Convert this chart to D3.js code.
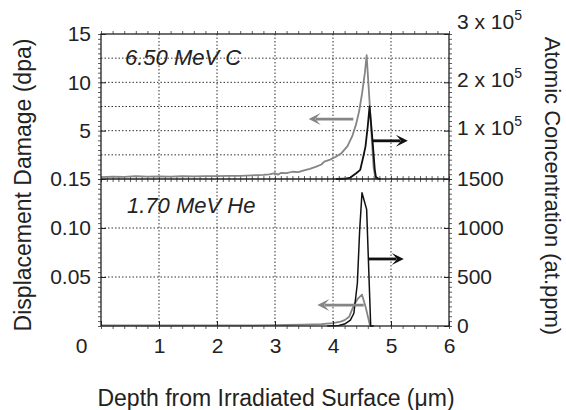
<!DOCTYPE html>
<html><head><meta charset="utf-8">
<script src="https://cdn.jsdelivr.net/npm/d3@7"></script>
<style>
html,body{margin:0;padding:0;background:#fff;}
svg{display:block;font-family:"Liberation Sans",Arial,Helvetica,sans-serif;}
</style></head>
<body><svg id="c" width="566" height="410"></svg>
<script>
// ---------- data ----------
// Top panel: 6.50 MeV C
const cDepthDamage = [0,0.2,0.4,0.6,0.8,1.0,1.2,1.4,1.6,1.8,2.0,2.2,2.4,2.6,2.8,2.9,3.0,3.05,3.1,3.2,3.3,3.4,3.5,3.6,3.7,3.8,3.85,3.95,4.05,4.15,4.25,4.33,4.4,4.45,4.5,4.55,4.58,4.62,4.66,4.7,4.73,4.8];
const cDamage      = [0.2,0.25,0.22,0.3,0.25,0.28,0.25,0.3,0.28,0.3,0.3,0.33,0.32,0.38,0.42,0.48,0.6,0.45,0.62,0.6,0.75,0.72,0.9,1.05,1.25,1.5,1.8,2.0,2.3,2.7,3.4,4.4,5.7,7.0,8.8,11.0,12.8,9.0,5.0,1.2,0.1,0.0];
const cDepthConc   = [4.05,4.2,4.3,4.4,4.47,4.52,4.56,4.6,4.63,4.66,4.69,4.72,4.74,4.78,4.82];
const cConc        = [0,500,3000,12000,19000,45000,67000,110000,150000,110000,67000,20000,4000,1000,0];
// Bottom panel: 1.70 MeV He
const heDepthDamage = [0,0.5,1.0,1.5,2.0,2.5,3.0,3.2,3.5,3.8,4.0,4.13,4.2,4.28,4.36,4.43,4.5,4.56,4.64,4.7];
const heDamage      = [0.0005,0.0006,0.0005,0.0006,0.0006,0.0007,0.0008,0.001,0.0015,0.002,0.003,0.0045,0.006,0.0095,0.0214,0.028,0.032,0.02,0.0,0.0];
const heDepthConc   = [3.9,4.1,4.2,4.3,4.36,4.42,4.46,4.5,4.58,4.65,4.7];
const heConc        = [0,5,20,60,130,436,980,1360,1190,0,0];
// axis ticks
const xTicks = [0,1,2,3,4,5,6];
const topLeftTicks = [5,10,15];
const topRightTicks = [100000,200000,300000];
const botLeftTicks = [0.05,0.10,0.15];
const botRightTicks = [0,500,1000,1500];
const topGrid = [2.5,5,7.5,10,12.5];
const botGrid = [0.05,0.10];
// arrows: [x from, x to, y value]
const arrowTopDamage = [4.35,3.58,6.2];
const arrowTopConc   = [4.68,5.29,79000];
const arrowBotDamage = [4.53,3.73,0.0214];
const arrowBotConc   = [4.61,5.22,684];

// ---------- layout ----------
const L=101,R=449,T=34,M=179,B=326;
const svg=d3.select("#c");
const x=d3.scaleLinear([0,6],[L,R]);
const yTL=d3.scaleLinear([0,15],[M,T]);
const yTR=d3.scaleLinear([0,300000],[M,T]);
const yBL=d3.scaleLinear([0,0.15],[B,M]);
const yBR=d3.scaleLinear([0,1500],[B,M]);
const GRAY="#858585", BLACK="#111", TXT="#222";

// grid
const grid=svg.append("g").attr("stroke","#333").attr("stroke-width",1).attr("stroke-dasharray","1.5,2");
[1,2,3,4,5].forEach(v=>grid.append("line").attr("x1",x(v)).attr("x2",x(v)).attr("y1",T).attr("y2",B));
topGrid.forEach(v=>grid.append("line").attr("x1",L).attr("x2",R).attr("y1",yTL(v)).attr("y2",yTL(v)));
botGrid.forEach(v=>grid.append("line").attr("x1",L).attr("x2",R).attr("y1",yBL(v)).attr("y2",yBL(v)));

// minor ticks
function minor(axisGen, tr, vals){
  const g=svg.append("g").attr("transform",tr).call(axisGen.tickValues(vals).tickFormat("").tickSizeInner(-3).tickSizeOuter(0));
  g.select(".domain").remove();
  g.selectAll("line").attr("stroke","#333").attr("stroke-width",0.8);
}
const r=(a,b,s)=>d3.range(Math.round((b-a)/s)+1).map(i=>+(a+i*s).toFixed(4));
minor(d3.axisRight(yTL),`translate(${L},0)`,r(0,15,0.5));
minor(d3.axisLeft(yTR),`translate(${R},0)`,r(0,300000,10000));
minor(d3.axisRight(yBL),`translate(${L},0)`,r(0,0.15,0.005));
minor(d3.axisLeft(yBR),`translate(${R},0)`,r(0,1500,50));
minor(d3.axisBottom(x),`translate(0,${T})`,r(0,6,0.2));
minor(d3.axisTop(x),`translate(0,${B})`,r(0,6,0.2));
minor(d3.axisTop(x),`translate(0,${M})`,r(0,6,0.1));
minor(d3.axisBottom(x),`translate(0,${M})`,r(0,6,0.1));

// lines
const line=(ys)=>d3.line().x(d=>x(d[0])).y(d=>ys(d[1]));
const zip=(a,b)=>a.map((v,i)=>[v,b[i]]);
function path(data,ys,col,w){
  svg.append("path").datum(data).attr("d",line(ys)).attr("fill","none").attr("stroke",col).attr("stroke-width",w).attr("stroke-linejoin","round");
}
path(zip(heDepthDamage,heDamage),yBL,GRAY,1.8);
path(zip(heDepthConc,heConc),yBR,BLACK,1.5);
path(zip(cDepthDamage,cDamage),yTL,GRAY,1.8);
path(zip(cDepthConc,cConc),yTR,BLACK,1.8);

// arrows
function arrow(a,ys,col){
  const x1=x(a[0]),x2=x(a[1]),y=ys(a[2]);
  const dir=Math.sign(x2-x1), hl=12, hw=6;
  svg.append("line").attr("x1",x1).attr("x2",x2-dir*hl*0.6).attr("y1",y).attr("y2",y).attr("stroke",col).attr("stroke-width",2.8);
  svg.append("path").attr("d",`M${x2},${y}L${x2-dir*hl},${y-hw}L${x2-dir*hl*0.55},${y}L${x2-dir*hl},${y+hw}Z`).attr("fill",col);
}
arrow(arrowTopDamage,yTL,GRAY);
arrow(arrowTopConc,yTR,BLACK);
arrow(arrowBotDamage,yBL,GRAY);
arrow(arrowBotConc,yBR,BLACK);

// frame
svg.append("rect").attr("x",L).attr("y",T).attr("width",R-L).attr("height",B-T).attr("fill","none").attr("stroke","#222").attr("stroke-width",1.3);
svg.append("line").attr("x1",L).attr("x2",R).attr("y1",M).attr("y2",M).attr("stroke","#222").attr("stroke-width",1.5);

// major axes with labels
function major(axisGen, tr, vals, fmt, pad){
  const g=svg.append("g").attr("transform",tr).call(axisGen.tickValues(vals).tickFormat(fmt).tickSizeInner(-5).tickSizeOuter(0).tickPadding(pad));
  g.select(".domain").remove();
  g.selectAll("line").attr("stroke","#222");
  g.selectAll("text").attr("fill",TXT).style("font-size","21px").style("font-family","'Liberation Sans',Arial,sans-serif");
  return g;
}
major(d3.axisLeft(yTL),`translate(${L},0)`,topLeftTicks,d3.format("d"),10);
major(d3.axisLeft(yBL),`translate(${L},0)`,botLeftTicks,d3.format(".2f"),10);
major(d3.axisRight(yBR),`translate(${R},0)`,botRightTicks,d3.format("d"),8);
const gtr=major(d3.axisRight(yTR),`translate(${R},0)`,topRightTicks,()=>"",8);
gtr.selectAll("text").each(function(d){
  const t=d3.select(this);
  t.attr("dy", d===300000 ? "-0.28em" : "0.2em");
  t.append("tspan").text(`${d/100000} x 10`);
  t.append("tspan").text("5").attr("dy","-9").style("font-size","14px");
});
const gx=major(d3.axisBottom(x),`translate(0,${B})`,xTicks,d3.format("d"),12);
gx.selectAll("text").attr("x",d=>d===0?-20:0);

// panel labels
svg.append("text").attr("x",125).attr("y",65).attr("fill",TXT).style("font-size","22px").style("font-style","italic").text("6.50 MeV C");
svg.append("text").attr("x",127).attr("y",213).attr("fill",TXT).style("font-size","22px").style("font-style","italic").text("1.70 MeV He");

// axis titles
svg.append("text").attr("transform",`translate(276,406)`).attr("text-anchor","middle").attr("fill",TXT).style("font-size","23px").text("Depth from Irradiated Surface (μm)");
svg.append("text").attr("transform",`translate(31,185) rotate(-90)`).attr("text-anchor","middle").attr("fill",TXT).style("font-size","23px").text("Displacement Damage (dpa)");
svg.append("text").attr("transform",`translate(545,186) rotate(90)`).attr("text-anchor","middle").attr("fill",TXT).style("font-size","22px").text("Atomic Concentration (at.ppm)");
</script></body></html>
